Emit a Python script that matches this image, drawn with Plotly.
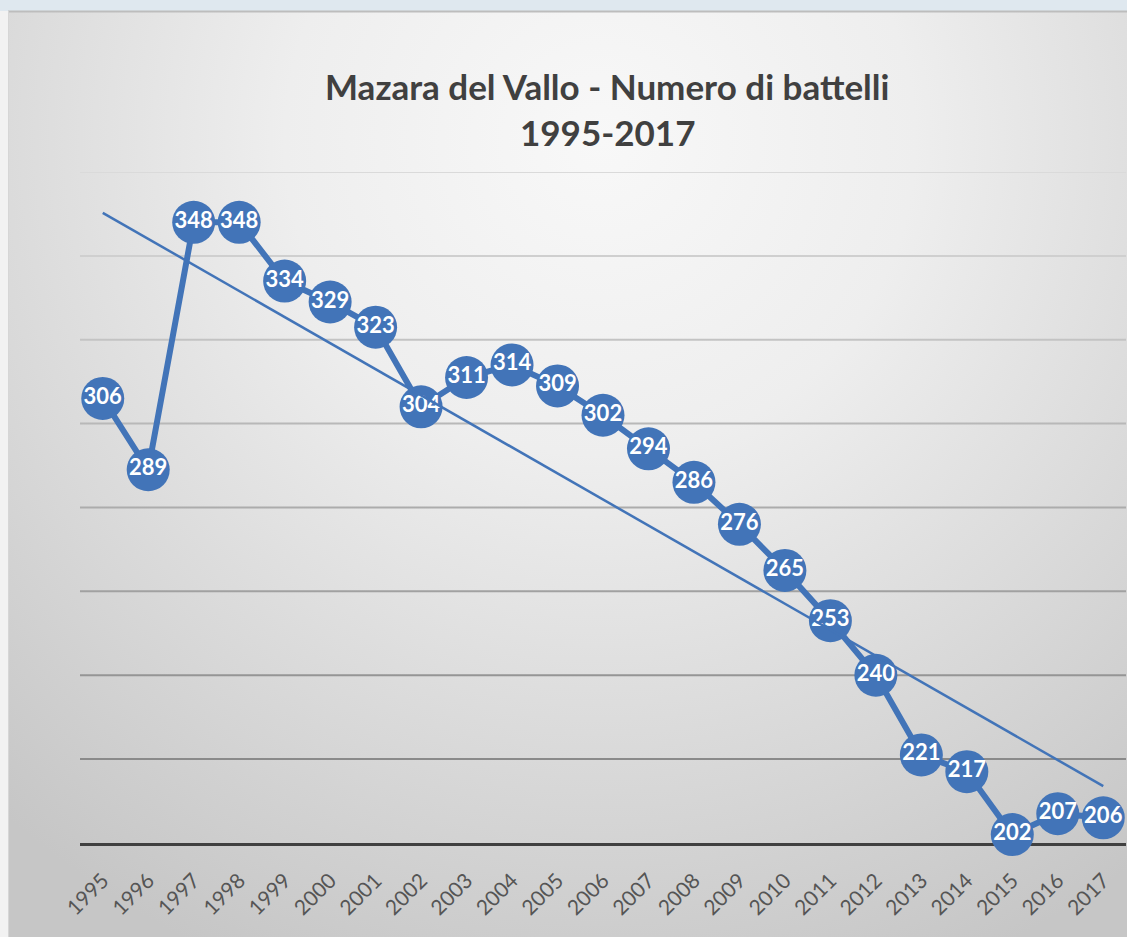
import base64
import numpy as np
import plotly.graph_objects as go

years = [str(y) for y in range(1995, 2018)]
boats = [306, 289, 348, 348, 334, 329, 323, 304, 311, 314, 309, 302,
         294, 286, 276, 265, 253, 240, 221, 217, 202, 207, 206]
title_line1 = "Mazara del Vallo - Numero di battelli"
title_line2 = "1995-2017"
grid_values = [220, 240, 260, 280, 300, 320, 340, 360]

W, H = 1127, 937
BLUE = "#4274b8"

# linear trend (Excel-style trendline) computed from the data
idx = np.arange(len(boats))
slope, intercept = np.polyfit(idx, boats, 1)
trend = slope * idx + intercept

svg = f"""<svg xmlns='http://www.w3.org/2000/svg' width='{W}' height='{H}' viewBox='0 0 {W} {H}' preserveAspectRatio='none'>
<defs><radialGradient id='g' cx='600' cy='140' r='900' gradientUnits='userSpaceOnUse'>
<stop offset='0' stop-color='#f8f8f8'/><stop offset='0.35' stop-color='#eeeeee'/><stop offset='1' stop-color='#c6c6c6'/></radialGradient></defs>
<rect width='{W}' height='{H}' fill='#f2f2f2'/>
<rect x='8' y='11' width='{W-8}' height='{H-11}' fill='url(#g)'/>
<rect width='{W}' height='11' fill='#dfe8ef'/>
<line x1='8' y1='11.5' x2='{W}' y2='11.5' stroke='#bdbdbd' stroke-width='2'/>
<line x1='8.5' y1='11' x2='8.5' y2='{H}' stroke='#d6d6d6' stroke-width='1'/>
</svg>"""
bg_src = "data:image/svg+xml;base64," + base64.b64encode(svg.encode()).decode()


def grid_color(v):
    # light near the top of the chart, darker towards the bottom
    t = (360 - v) / 140.0
    c = int(round(0xda - t * (0xda - 0x8a)))
    return f"rgb({c},{c},{c})"


shapes = [
    dict(type="line", xref="x domain", yref="y", x0=0, x1=1, y0=v, y1=v,
         line=dict(color=grid_color(v), width=2), layer="below")
    for v in grid_values
]

fig = go.Figure()
fig.add_trace(go.Scatter(
    x=years, y=boats, mode="lines+markers+text",
    line=dict(color=BLUE, width=6),
    marker=dict(size=43, color=BLUE),
    text=[str(v) for v in boats], textposition="middle center",
    textfont=dict(family="Lato", size=22, color="white", weight="bold"),
    cliponaxis=False, hoverinfo="x+y", showlegend=False,
))
fig.add_trace(go.Scatter(
    x=years, y=trend, mode="lines",
    line=dict(color=BLUE, width=2.5),
    cliponaxis=False, hoverinfo="skip", showlegend=False,
))

fig.update_layout(
    width=W, height=H,
    margin=dict(l=0, r=0, t=0, b=0, autoexpand=False),
    paper_bgcolor="rgba(0,0,0,0)", plot_bgcolor="rgba(0,0,0,0)",
    images=[dict(source=bg_src, xref="paper", yref="paper", x=0, y=1,
                 sizex=1, sizey=1, xanchor="left", yanchor="top",
                 sizing="stretch", layer="below")],
    shapes=shapes,
    xaxis=dict(
        domain=[80 / W, 1126 / W], type="category", range=[-0.5, 22.5],
        showgrid=False, showline=True, linecolor="#404040", linewidth=3,
        tickangle=-45, ticks="", ticklabelstandoff=14,
        tickfont=dict(family="Lato", size=21, color="#555555"),
        layer="below traces", zeroline=False, automargin=False,
    ),
    yaxis=dict(
        domain=[(H - 843) / H, (H - 172) / H], range=[200, 360],
        showticklabels=False, ticks="", showgrid=False,
        zeroline=False, showline=False, automargin=False,
    ),
    annotations=[
        dict(text=title_line1, xref="paper", yref="paper",
             x=607 / W, y=(H - 86) / H, showarrow=False,
             xanchor="center", yanchor="middle",
             font=dict(family="Lato", size=35, color="#404040", weight="bold")),
        dict(text=title_line2, xref="paper", yref="paper",
             x=607 / W, y=(H - 132) / H, showarrow=False,
             xanchor="center", yanchor="middle",
             font=dict(family="Lato", size=35, color="#404040", weight="bold")),
    ],
)

fig.write_html(
    "out.html",
    config={"displayModeBar": False},
    post_script="document.body.style.margin='0';document.body.style.overflow='hidden';",
)
